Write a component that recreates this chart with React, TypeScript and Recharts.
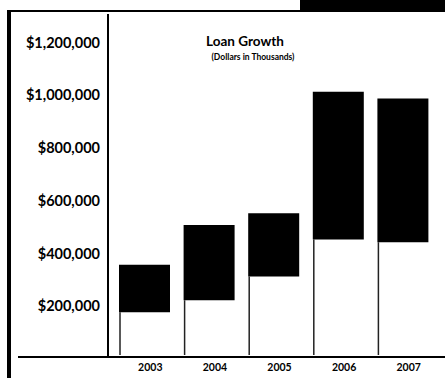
import React from "react";
import { BarChart, Bar, XAxis, YAxis } from "recharts";

// loan totals by year, with the lower (unshaded) part of each bar
const years = ["2003", "2004", "2005", "2006", "2007"];
const totals = [350000, 500000, 545000, 1005000, 980000];
const bases = [170000, 215000, 305000, 445000, 435000];
const yTicks = [200000, 400000, 600000, 800000, 1000000, 1200000];

const data = years.map((year, i) => ({
  year,
  base: bases[i],
  top: totals[i] - bases[i],
}));

const money = (v: number) => "$" + v.toLocaleString("en-US");

// lower segment: left edge stroke only, no fill
const BaseShape = (props: any) => {
  const { x, y, width, height } = props;
  if (height <= 0) return null;
  return (
    <g>
      <rect x={x} y={y} width={width} height={height} fill="#fff" />
      <line x1={x + 1} y1={y} x2={x + 1} y2={y + height - 2} stroke="#222" strokeWidth={1.5} />
    </g>
  );
};

const font = "Lato, 'Open Sans', sans-serif";

export default function App() {
  return (
    <div style={{ position: "absolute", left: 0, top: 0, width: 445, height: 378, background: "#fff", overflow: "hidden", fontFamily: font }}>
      {/* frame pieces */}
      <div style={{ position: "absolute", left: 300, top: 0, width: 145, height: 10, background: "#000" }} />
      <div style={{ position: "absolute", left: 7, top: 10, width: 438, height: 2, background: "#000" }} />
      <div style={{ position: "absolute", left: 7, top: 10, width: 4, height: 368, background: "#000" }} />
      <div style={{ position: "absolute", left: 18, top: 356, width: 92, height: 2, background: "#000" }} />

      <div style={{ position: "absolute", left: 145, width: 200, top: 33, textAlign: "center", fontSize: 13.5, fontWeight: 700, color: "#000", lineHeight: "16px" }}>
        Loan Growth
      </div>
      <div style={{ position: "absolute", left: 153, width: 200, top: 52, textAlign: "center", fontSize: 8.5, fontWeight: 700, color: "#000", lineHeight: "10px" }}>
        (Dollars in Thousands)
      </div>

      <div style={{ position: "absolute", left: 0, top: 0 }}>
        <BarChart
          width={445}
          height={378}
          data={data}
          margin={{ top: 14, right: 0, bottom: 0, left: 0 }}
          barSize={51}
        >
          <XAxis
            dataKey="year"
            height={21}
            padding={{ left: 4, right: 10 }}
            axisLine={{ stroke: "#000", strokeWidth: 2 }}
            tickLine={false}
            tickSize={0}
            tickMargin={7}
            dx={6}
            tick={{ fill: "#000", fontSize: 10.5, fontWeight: 700, fontFamily: font }}
          />
          <YAxis
            width={108}
            domain={[0, 1300000]}
            ticks={yTicks}
            interval={0}
            tickFormatter={money}
            axisLine={{ stroke: "#000", strokeWidth: 2 }}
            tickLine={false}
            tickSize={0}
            tickMargin={8}
            tick={{ fill: "#000", fontSize: 14.5, fontWeight: 700, fontFamily: font, dy: 2 }}
          />
          <Bar dataKey="base" stackId="a" shape={<BaseShape />} isAnimationActive={false} />
          <Bar dataKey="top" stackId="a" fill="#000" isAnimationActive={false} />
        </BarChart>
      </div>
    </div>
  );
}
